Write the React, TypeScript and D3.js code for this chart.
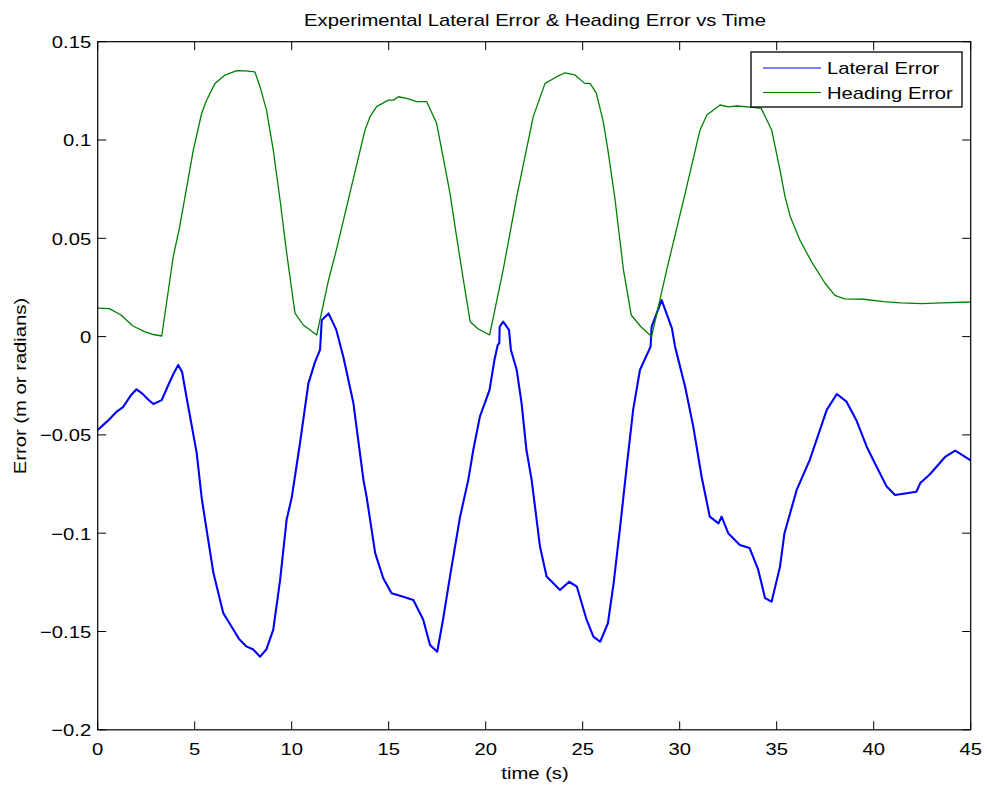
import React from "react";
import * as d3 from "d3";

const headingT = [0, 0.6, 1.2, 1.8, 2.4, 2.8, 3.3, 3.9, 4.21, 4.93, 5.36, 5.6, 6.05, 6.56, 7.16, 7.6, 8.1, 8.37, 8.7, 9.05, 9.4, 9.74, 10.17, 10.6, 11.0, 11.29, 11.9, 12.3, 13.0, 13.78, 14.04, 14.38, 14.98, 15.24, 15.5, 15.93, 16.44, 16.96, 17.47, 17.8, 18.16, 18.5, 18.85, 19.2, 19.6, 20.2, 20.9, 21.6, 22.45, 23.06, 23.66, 24.09, 24.6, 25.1, 25.38, 25.7, 26.06, 26.3, 26.67, 27.1, 27.5, 28.0, 28.55, 29.33, 30.2, 31.05, 31.4, 32.08, 32.5, 32.94, 33.8, 34.2, 34.74, 35.17, 35.43, 35.7, 36.2, 36.8, 37.5, 38.0, 38.5, 39.5, 40.5, 41.4, 42.5, 43.5, 45];
const headingV = [0.0145, 0.0142, 0.011, 0.0055, 0.0025, 0.0012, 0.0003, 0.041, 0.055, 0.095, 0.1136, 0.12, 0.1288, 0.133, 0.1353, 0.1352, 0.1347, 0.127, 0.1153, 0.0949, 0.0695, 0.0425, 0.012, 0.0059, 0.003, 0.0008, 0.0288, 0.044, 0.073, 0.1051, 0.1119, 0.117, 0.1203, 0.1203, 0.122, 0.1212, 0.1195, 0.1195, 0.1085, 0.0915, 0.0729, 0.0508, 0.0288, 0.0076, 0.004, 0.0008, 0.0339, 0.0712, 0.1119, 0.1288, 0.1322, 0.1342, 0.1331, 0.1288, 0.1288, 0.1238, 0.1093, 0.0949, 0.0695, 0.0339, 0.011, 0.005, 0.0, 0.0339, 0.0695, 0.1051, 0.1127, 0.1178, 0.1169, 0.1173, 0.1166, 0.1161, 0.1051, 0.0847, 0.0712, 0.061, 0.049, 0.038, 0.027, 0.021, 0.0192, 0.019, 0.0178, 0.0172, 0.0168, 0.0172, 0.0176];

const lateralT = [0, 0.5, 1.0, 1.32, 1.7, 2.0, 2.3, 2.6, 2.87, 3.3, 3.64, 3.9, 4.15, 4.35, 4.6, 5.1, 5.36, 5.53, 5.96, 6.47, 6.99, 7.3, 7.68, 8.0, 8.37, 8.7, 9.05, 9.4, 9.74, 10.0, 10.43, 10.86, 11.2, 11.46, 11.55, 11.9, 12.3, 12.66, 13.18, 13.7, 13.87, 14.3, 14.72, 15.15, 15.75, 16.27, 16.78, 17.13, 17.5, 17.8, 18.16, 18.68, 19.1, 19.36, 19.7, 20.2, 20.45, 20.62, 20.7, 20.72, 20.9, 21.2, 21.3, 21.6, 21.85, 22.1, 22.37, 22.8, 23.14, 23.83, 24.3, 24.7, 25.2, 25.55, 25.9, 26.3, 26.6, 26.95, 27.27, 27.6, 27.95, 28.5, 28.55, 29.07, 29.6, 29.76, 30.28, 30.7, 31.13, 31.55, 32.0, 32.16, 32.5, 33.1, 33.6, 34.05, 34.4, 34.74, 35.17, 35.4, 36.03, 36.7, 37.58, 38.1, 38.6, 39.1, 39.64, 40.15, 40.67, 41.1, 41.7, 42.2, 42.4, 42.9, 43.7, 44.2, 45];
const lateralV = [-0.0475, -0.043, -0.038, -0.0357, -0.03, -0.0268, -0.029, -0.032, -0.0343, -0.0323, -0.0246, -0.019, -0.0144, -0.018, -0.032, -0.059, -0.082, -0.093, -0.12, -0.1406, -0.149, -0.154, -0.1577, -0.159, -0.1628, -0.159, -0.149, -0.124, -0.093, -0.082, -0.054, -0.0238, -0.013, -0.0068, 0.0084, 0.0118, 0.0034, -0.0102, -0.0338, -0.073, -0.082, -0.11, -0.1229, -0.1306, -0.1323, -0.134, -0.144, -0.1569, -0.1603, -0.144, -0.122, -0.0916, -0.073, -0.0577, -0.0407, -0.0271, -0.0119, -0.0043, -0.0033, 0.005, 0.0076, 0.0034, -0.0068, -0.017, -0.034, -0.0577, -0.073, -0.1069, -0.122, -0.1289, -0.1247, -0.1272, -0.144, -0.1526, -0.1552, -0.1458, -0.125, -0.095, -0.066, -0.0373, -0.017, -0.0051, 0.005, 0.0186, 0.0042, -0.0051, -0.0255, -0.0458, -0.0713, -0.0916, -0.095, -0.0916, -0.1, -0.106, -0.1075, -0.1187, -0.133, -0.1348, -0.117, -0.1, -0.078, -0.0628, -0.0373, -0.0292, -0.0331, -0.0424, -0.056, -0.0662, -0.0763, -0.0806, -0.0797, -0.0789, -0.0745, -0.07, -0.061, -0.058, -0.063];

const xTicks = [0, 5, 10, 15, 20, 25, 30, 35, 40, 45];
const xTickLabels = ["0", "5", "10", "15", "20", "25", "30", "35", "40", "45"];
const yTicks = [-0.2, -0.15, -0.1, -0.05, 0, 0.05, 0.1, 0.15];
const yTickLabels = ["\u22120.2", "\u22120.15", "\u22120.1", "\u22120.05", "0", "0.05", "0.1", "0.15"];
const seriesNames = ["Lateral Error", "Heading Error"];
const seriesColors = ["#0000ff", "#008000"];

const W = 988, H = 788;
const L = 97.7, R = 970.7, T = 41.7, B = 729.8;
const FONT = "'Liberation Sans', Arial, Helvetica, sans-serif";
const FS = 17;
const SX = 1.19;

function Txt({ x, y, anchor = "start", rotate = 0, children, size = FS }: any) {
  return (
    <text
      transform={`translate(${x},${y}) rotate(${rotate}) scale(${SX},1)`}
      textAnchor={anchor}
      fontFamily={FONT}
      fontSize={size}
      fill="#000"
    >
      {children}
    </text>
  );
}

export default function App() {
  const x = d3.scaleLinear().domain([0, 45]).range([L, R]);
  const y = d3.scaleLinear().domain([-0.2, 0.15]).range([B, T]);
  const line = d3
    .line<[number, number]>()
    .x((d) => x(d[0]))
    .y((d) => y(d[1]));
  const lat = lateralT.map((t, i) => [t, lateralV[i]] as [number, number]);
  const hed = headingT.map((t, i) => [t, headingV[i]] as [number, number]);
  const tl = 8.5;
  const legX = 751, legY = 52, legW = 211, legH = 55;

  return (
    <div style={{ position: "absolute", left: 0, top: 0 }}>
      <svg width={W} height={H} style={{ display: "block" }}>
        <rect x={0} y={0} width={W} height={H} fill="#fff" />
        <path d={line(lat) || ""} fill="none" stroke={seriesColors[0]} strokeWidth={2.1} strokeLinejoin="round" />
        <path d={line(hed) || ""} fill="none" stroke={seriesColors[1]} strokeWidth={1.3} strokeLinejoin="round" />
        <rect x={L} y={T} width={R - L} height={B - T} fill="none" stroke="#000" strokeWidth={1.2} />
        {xTicks.map((t, i) => (
          <g key={"xt" + i}>
            <line x1={x(t)} x2={x(t)} y1={B} y2={B - tl} stroke="#000" strokeWidth={1} />
            <line x1={x(t)} x2={x(t)} y1={T} y2={T + tl} stroke="#000" strokeWidth={1} />
            <Txt x={x(t)} y={B + 25.5} anchor="middle">{xTickLabels[i]}</Txt>
          </g>
        ))}
        {yTicks.map((t, i) => (
          <g key={"yt" + i}>
            <line x1={L} x2={L + tl} y1={y(t)} y2={y(t)} stroke="#000" strokeWidth={1} />
            <line x1={R} x2={R - tl} y1={y(t)} y2={y(t)} stroke="#000" strokeWidth={1} />
            <Txt x={L - 6.5} y={y(t) + 6.3} anchor="end">{yTickLabels[i]}</Txt>
          </g>
        ))}
        <Txt x={535} y={26} anchor="middle">Experimental Lateral Error &amp; Heading Error vs Time</Txt>
        <Txt x={535} y={779} anchor="middle">time (s)</Txt>
        <Txt x={26} y={386} anchor="middle" rotate={-90}>Error (m or radians)</Txt>
        <rect x={legX} y={legY} width={legW} height={legH} fill="#fff" stroke="#000" strokeWidth={1.3} />
        {seriesNames.map((n, i) => (
          <g key={"lg" + i}>
            <line x1={763} x2={821} y1={68 + i * 24.5} y2={68 + i * 24.5} stroke={seriesColors[i]} strokeWidth={1} />
            <Txt x={827} y={74 + i * 24.5}>{n}</Txt>
          </g>
        ))}
      </svg>
    </div>
  );
}
